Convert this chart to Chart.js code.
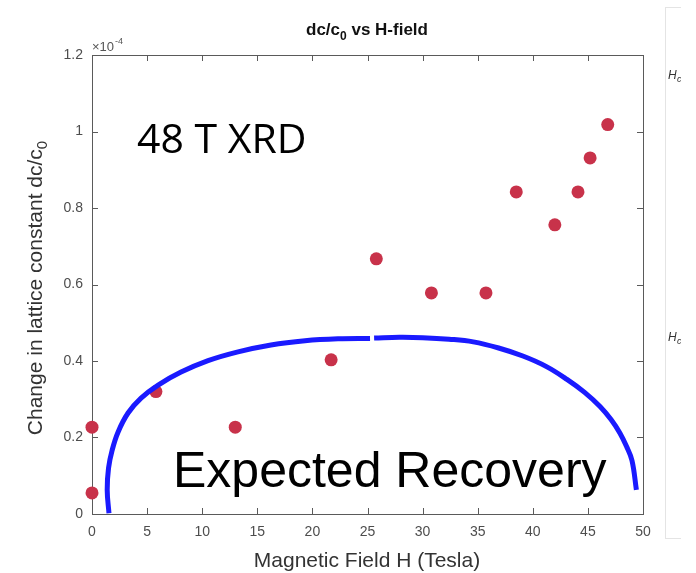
<!DOCTYPE html>
<html>
<head>
<meta charset="utf-8">
<script src="https://cdn.jsdelivr.net/npm/chart.js@4"></script>
<style>
  body { margin: 0; background: #fff; }
  #wrap { width: 696px; height: 573px; position: relative; }
</style>
</head>
<body>
<div id="wrap"><canvas id="fieldChart"></canvas></div>
<script>
// measured points (dc/c0 in units of 1e-4)
const fieldT = [0, 0, 5.8, 13.0, 21.7, 25.8, 30.8, 35.75, 38.5, 42.0, 44.1, 45.2, 46.8];
const dcValues = [0.055, 0.227, 0.32, 0.227, 0.403, 0.667, 0.578, 0.578, 0.842, 0.756, 0.842, 0.931, 1.018];

// hand-drawn "expected recovery" arc (two strokes)
const arcLeftX = [1.54, 1.38, 1.50, 1.83, 2.36, 3.27, 4.45, 6.0, 8.08, 10.53, 13.25, 16.24, 19.33, 22.32, 25.23];
const arcLeftY = [0.002, 0.063, 0.120, 0.167, 0.214, 0.264, 0.303, 0.337, 0.371, 0.401, 0.424, 0.442, 0.453, 0.458, 0.459];
const arcRightX = [25.6, 27.9, 30.0, 32.4, 34.6, 36.9, 39.1, 41.2, 43.1, 44.7, 46.1, 47.1, 47.9, 48.5, 49.0, 49.4];
const arcRightY = [0.460, 0.462, 0.461, 0.457, 0.450, 0.434, 0.413, 0.386, 0.352, 0.318, 0.281, 0.247, 0.212, 0.177, 0.140, 0.063];

const xTicks = [0, 5, 10, 15, 20, 25, 30, 35, 40, 45, 50];
const yTicks = [0, 0.2, 0.4, 0.6, 0.8, 1, 1.2];

const toPts = (xs, ys) => xs.map((x, i) => ({ x: x, y: ys[i] }));

const SANS = "'Liberation Sans', Arial, sans-serif";

const frame = {
  id: "frame",
  beforeDatasetsDraw(chart) {
    const { ctx, chartArea: a, scales } = chart;
    ctx.save();
    ctx.strokeStyle = "#5a5a5a";
    ctx.lineWidth = 1;
    ctx.strokeRect(Math.round(a.left) + 0.5, Math.round(a.top) + 0.5,
      Math.round(a.right - a.left), Math.round(a.bottom - a.top));
    ctx.beginPath();
    xTicks.forEach(v => {
      const px = Math.round(scales.x.getPixelForValue(v)) + 0.5;
      ctx.moveTo(px, a.bottom); ctx.lineTo(px, a.bottom - 6);
      ctx.moveTo(px, a.top); ctx.lineTo(px, a.top + 6);
    });
    yTicks.forEach(v => {
      const py = Math.round(scales.y.getPixelForValue(v)) + 0.5;
      ctx.moveTo(a.left, py); ctx.lineTo(a.left + 6, py);
      ctx.moveTo(a.right, py); ctx.lineTo(a.right - 6, py);
    });
    ctx.stroke();
    ctx.restore();
  },
  afterDraw(chart) {
    const { ctx, chartArea: a } = chart;
    ctx.save();

    // title with subscript
    ctx.fillStyle = "#111";
    ctx.textBaseline = "alphabetic";
    const big = "bold 17px " + SANS, small = "bold 12px " + SANS;
    ctx.font = big;
    const w1 = ctx.measureText("dc/c").width;
    const w3 = ctx.measureText(" vs H-field").width;
    ctx.font = small;
    const w2 = ctx.measureText("0").width;
    let x = 367 - (w1 + w2 + w3) / 2;
    ctx.font = big; ctx.fillText("dc/c", x, 35); x += w1;
    ctx.font = small; ctx.fillText("0", x, 40); x += w2;
    ctx.font = big; ctx.fillText(" vs H-field", x, 35);

    // exponent label
    ctx.fillStyle = "#555";
    ctx.font = "13px " + SANS;
    ctx.fillText("\u00d710", a.left, 51);
    const wx = ctx.measureText("\u00d710").width;
    ctx.font = "9px " + SANS;
    ctx.fillText("-4", a.left + wx + 1, 44);

    // x axis title
    ctx.fillStyle = "#333";
    ctx.font = "21px " + SANS;
    ctx.textAlign = "center";
    ctx.fillText("Magnetic Field H (Tesla)", 367, 567);

    // y axis title, rotated, with subscript
    ctx.save();
    ctx.translate(42, 288);
    ctx.rotate(-Math.PI / 2);
    ctx.textAlign = "left";
    ctx.font = "21px " + SANS;
    const ya = ctx.measureText("Change in lattice constant dc/c").width;
    ctx.font = "15px " + SANS;
    const yb = ctx.measureText("0").width;
    let yx = -(ya + yb) / 2;
    ctx.font = "21px " + SANS;
    ctx.fillText("Change in lattice constant dc/c", yx, 0);
    ctx.font = "15px " + SANS;
    ctx.fillText("0", yx + ya, 5);
    ctx.restore();

    // slide annotations
    ctx.textAlign = "left";
    ctx.fillStyle = "#000";
    ctx.font = "41px 'Open Sans', sans-serif";
    ctx.fillText("48 T XRD", 137, 153);
    ctx.font = "50px " + SANS;
    ctx.fillText("Expected Recovery", 173, 487);

    // neighbouring panel edge on the right, cut off like the slide
    ctx.beginPath();
    ctx.rect(0, 0, 681, 573);
    ctx.clip();
    ctx.strokeStyle = "#e4e4e4";
    ctx.strokeRect(665.5, 7.5, 60, 531);
    ctx.fillStyle = "#333";
    ctx.font = "italic 12px " + SANS;
    ctx.fillText("H", 668, 79);
    ctx.fillText("H", 668, 341);
    ctx.font = "italic 9px " + SANS;
    ctx.fillText("c", 677, 82);
    ctx.fillText("c", 677, 344);
    ctx.restore();
  }
};

const arcStyle = {
  showLine: true,
  borderColor: "#1a1aff",
  backgroundColor: "#1a1aff",
  borderWidth: 5,
  tension: 0.4,
  pointRadius: 0,
  pointHoverRadius: 0,
  fill: false,
  order: 0,
};

const ctx = document.getElementById("fieldChart").getContext("2d");
const fieldChart = new Chart(ctx, {
  type: "scatter",
  data: {
    datasets: [
      Object.assign({ label: "arc-left", data: toPts(arcLeftX, arcLeftY) }, arcStyle),
      Object.assign({ label: "arc-right", data: toPts(arcRightX, arcRightY) }, arcStyle),
      {
        label: "dc/c0",
        data: toPts(fieldT, dcValues),
        backgroundColor: "#c8324a",
        borderWidth: 0,
        pointRadius: 6.5,
        pointHoverRadius: 6.5,
        clip: false,
        order: 1,
      },
    ],
  },
  options: {
    responsive: true,
    maintainAspectRatio: false,
    animation: false,
    layout: { padding: { top: 55, right: 53, left: 0, bottom: 0 } },
    plugins: {
      legend: { display: false },
      tooltip: { enabled: false },
    },
    scales: {
      x: {
        type: "linear",
        min: 0,
        max: 50,
        afterBuildTicks: s => { s.ticks = xTicks.map(v => ({ value: v })); },
        afterFit: s => { s.height = 59; },
        ticks: {
          color: "#4d4d4d",
          font: { family: SANS, size: 14 },
          padding: 10,
          maxRotation: 0,
        },
        grid: { display: false, drawTicks: false },
        border: { display: false },
      },
      y: {
        min: 0,
        max: 1.2,
        afterBuildTicks: s => { s.ticks = yTicks.map(v => ({ value: v })); },
        afterFit: s => { s.width = 92; },
        ticks: {
          color: "#4d4d4d",
          font: { family: SANS, size: 14 },
          padding: 9,
          callback: v => String(+v.toFixed(1)),
        },
        grid: { display: false, drawTicks: false },
        border: { display: false },
      },
    },
  },
  plugins: [frame],
});
</script>
</body>
</html>
